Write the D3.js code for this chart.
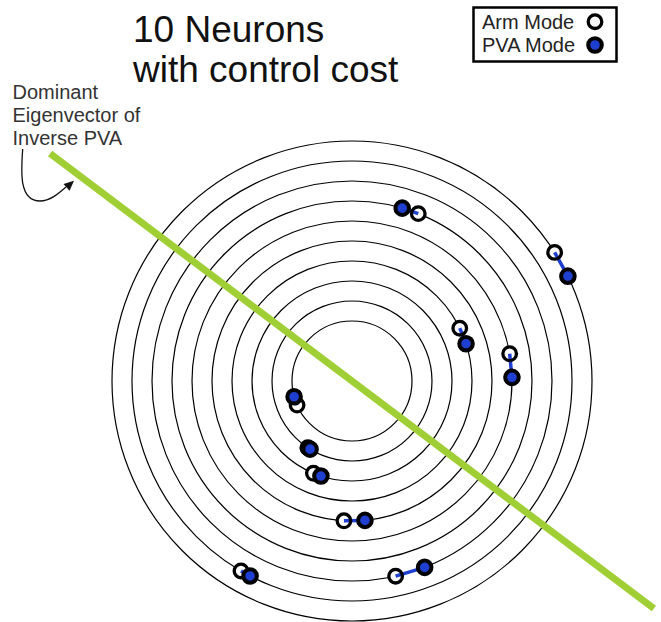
<!DOCTYPE html>
<html>
<head>
<meta charset="utf-8">
<script src="https://cdn.jsdelivr.net/npm/d3@7"></script>
<style>
  html, body { margin: 0; padding: 0; background: #fff; }
  svg { display: block; }
  text { font-family: "Liberation Sans", Arial, sans-serif; }
</style>
</head>
<body>
<div id="chart"></div>
<script>
// ---- data ----
const titleLines = ["10 Neurons", "with control cost"];
const noteLines = ["Dominant", "Eigenvector of", "Inverse PVA"];
const legendLabels = ["Arm Mode", "PVA Mode"];
const ringLevels = [1, 2, 3, 4, 5, 6, 7, 8, 9, 10];
// each neuron sits on its own ring; angles in degrees (counter-clockwise from +x)
const neuronRing = [1, 2, 3, 4, 5, 6, 7, 8, 9, 10];
const armAngle = [203.7, 236.5, 247.3, 26.1, 266.7, 9.8, 68.4, 282.6, 239.7, 32.4];
const pvaAngle = [195.2, 238.4, 251.9, 18.1, 275.3, 1.3, 73.8, 291.3, 242.4, 25.9];
const eigenAngle = -37; // direction of dominant eigenvector (degrees)

// ---- layout ----
const W = 661, H = 622;
const cx = 352, cy = 381;
const eigenHalfLen = 378;
const blue = "#1f3fd0", green = "#a0cf35";

const svg = d3.select("#chart").append("svg").attr("width", W).attr("height", H);

const r = d3.scaleLinear().domain([0, 10]).range([40, 240]);
const pos = (ring, deg) => d3.pointRadial(Math.PI / 2 - deg * Math.PI / 180, r(ring));

const g = svg.append("g").attr("transform", `translate(${cx},${cy})`);

// rings
g.selectAll("circle.ring").data(ringLevels).join("circle")
  .attr("class", "ring").attr("r", d => r(d))
  .attr("fill", "none").attr("stroke", "#000").attr("stroke-width", 1.2);

// eigenvector line
const e1 = d3.pointRadial(Math.PI / 2 - eigenAngle * Math.PI / 180, eigenHalfLen);
g.append("line")
  .attr("x1", -e1[0]).attr("y1", -e1[1]).attr("x2", e1[0]).attr("y2", e1[1])
  .attr("stroke", green).attr("stroke-width", 7);

const neurons = neuronRing.map((ring, i) => ({
  arm: pos(ring, armAngle[i]),
  pva: pos(ring, pvaAngle[i])
}));

// arm fill
g.selectAll("circle.armfill").data(neurons).join("circle")
  .attr("cx", d => d.arm[0]).attr("cy", d => d.arm[1]).attr("r", 6.8)
  .attr("fill", "#fafafa").attr("stroke", "none");
// connecting lines
g.selectAll("line.link").data(neurons).join("line")
  .attr("x1", d => d.arm[0]).attr("y1", d => d.arm[1])
  .attr("x2", d => d.pva[0]).attr("y2", d => d.pva[1])
  .attr("stroke", blue).attr("stroke-width", 3.5);
// arm ring
g.selectAll("circle.armring").data(neurons).join("circle")
  .attr("cx", d => d.arm[0]).attr("cy", d => d.arm[1]).attr("r", 6.8)
  .attr("fill", "none").attr("stroke", "#000").attr("stroke-width", 3.3);
// pva
g.selectAll("circle.pva").data(neurons).join("circle")
  .attr("cx", d => d.pva[0]).attr("cy", d => d.pva[1]).attr("r", 6.8)
  .attr("fill", blue).attr("stroke", "#000").attr("stroke-width", 4);

// title
svg.selectAll("text.title").data(titleLines).join("text")
  .attr("class", "title").attr("x", 133).attr("y", (d, i) => 41.5 + i * 40)
  .attr("font-size", 37).attr("fill", "#111").text(d => d);

// annotation
svg.selectAll("text.note").data(noteLines).join("text")
  .attr("class", "note").attr("x", 12.5).attr("y", (d, i) => 99 + i * 23)
  .attr("font-size", 20).attr("fill", "#333").text(d => d);

svg.append("path")
  .attr("d", "M22.7,149 C21,172 19,201 40,201 C50,201 58,194 66,187")
  .attr("fill", "none").attr("stroke", "#111").attr("stroke-width", 1.3);
svg.append("path")
  .attr("d", "M74,180.7 L69.5,190.7 L63.5,183.9 Z")
  .attr("fill", "#111");

// legend
const lg = svg.append("g");
lg.append("rect").attr("x", 473.5).attr("y", 7.5).attr("width", 143).attr("height", 54)
  .attr("fill", "#fff").attr("stroke", "#000").attr("stroke-width", 2.5);
lg.selectAll("text").data(legendLabels).join("text")
  .attr("x", 482).attr("y", (d, i) => 28.5 + i * 23.3)
  .attr("font-size", 20).attr("fill", "#222").text(d => d);
lg.append("circle").attr("cx", 595).attr("cy", 21.7).attr("r", 6.8)
  .attr("fill", "#fafafa").attr("stroke", "#000").attr("stroke-width", 3.3);
lg.append("circle").attr("cx", 595).attr("cy", 45).attr("r", 6.8)
  .attr("fill", blue).attr("stroke", "#000").attr("stroke-width", 4);
</script>
</body>
</html>
